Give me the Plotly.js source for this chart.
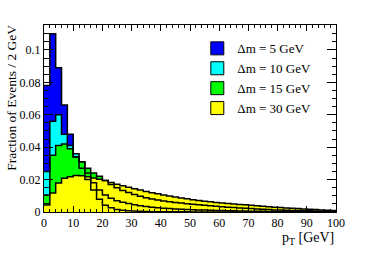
<!DOCTYPE html>
<html>
<head>
<meta charset="utf-8">
<script src="https://cdn.plot.ly/plotly-3.0.1.min.js"></script>
<style>html,body{margin:0;padding:0;background:#fff}#chart{width:374px;height:253px}</style>
</head>
<body>
<div id="chart"></div>
<script>
// Bin width 2 GeV, 0..100 GeV
const binWidth = 2;
const seriesNames = ["\u0394m = 5 GeV", "\u0394m = 10 GeV", "\u0394m = 15 GeV", "\u0394m = 30 GeV"];
const seriesColors = ["#0000ff", "#00ffff", "#00ff00", "#ffff00"];

const dm5 = [0.078,0.110,0.089,0.066,0.048,0.034,0.027,0.020,0.0135,0.0078,
  0.0042,0.0026,0.0016,0.0011,0.0008,0.0006,0.0004,0.0003,0.0002,0.0002,
  0.0001,0.0001,0.0001,0.0001,0.0001,0,0,0,0,0,
  0,0,0,0,0,0,0,0,0,0, 0,0,0,0,0,0,0,0,0,0];
const dm10 = [0.025,0.056,0.060,0.048,0.041,0.036,0.031,0.024,0.018,0.0135,
  0.0105,0.0085,0.0070,0.0060,0.0052,0.0045,0.0039,0.0034,0.0030,0.0026,
  0.0023,0.0021,0.0019,0.0017,0.0015,0.0014,0.0013,0.0012,0.0011,0.0010,
  0.0009,0.0008,0.0007,0.0006,0.0006,0.0005,0.0004,0.0004,0.0003,0.0003,
  0.0003,0.0002,0.0002,0.0002,0.0001,0.0001,0.0001,0.0001,0.0001,0.0001];
const dm15 = [0.0105,0.035,0.041,0.042,0.039,0.034,0.031,0.027,0.024,0.022,
  0.0195,0.0170,0.0150,0.0133,0.0120,0.0108,0.0097,0.0088,0.0080,0.0074,
  0.0068,0.0063,0.0059,0.0055,0.0051,0.0048,0.0045,0.0042,0.0039,0.0036,
  0.0033,0.0030,0.0027,0.0025,0.0023,0.0021,0.0019,0.0017,0.0015,0.0013,
  0.0012,0.0011,0.0010,0.0009,0.0008,0.0007,0.0006,0.0005,0.0004,0.0004];
const dm30 = [0.0043,0.0117,0.0179,0.0208,0.0218,0.0226,0.0224,0.0218,0.0210,0.0202,
  0.0195,0.0182,0.0172,0.0162,0.0152,0.0143,0.0135,0.0127,0.0119,0.0112,
  0.0105,0.0098,0.0092,0.0086,0.0081,0.0076,0.0071,0.0067,0.0063,0.0059,
  0.0056,0.0053,0.0050,0.0047,0.0044,0.0041,0.0038,0.0035,0.0032,0.0030,
  0.0028,0.0025,0.0023,0.0021,0.0019,0.0017,0.0015,0.0013,0.0011,0.0009];

const yTickVals = [0, 0.02, 0.04, 0.06, 0.08, 0.1];
const yTickText = ["0", "0.02", "0.04", "0.06", "0.08", "0.1"];
const xTickVals = [0,10,20,30,40,50,60,70,80,90,100];
const xTickText = ["0","10","20","30","40","50","60","70","80","90","100"];

const allSeries = [dm5, dm10, dm15, dm30];

function stepXY(vals) {
  const xs = [], ys = [];
  for (let i = 0; i < vals.length; i++) { xs.push(i * binWidth); ys.push(vals[i]); }
  xs.push(vals.length * binWidth); ys.push(vals[vals.length - 1]);
  return {xs, ys};
}

const traces = [];
// fills
allSeries.forEach((s, k) => {
  const {xs, ys} = stepXY(s);
  traces.push({type: 'scatter', mode: 'lines', x: xs, y: ys, line: {shape: 'hv', width: 0, color: seriesColors[k]},
    fill: 'tozeroy', fillcolor: seriesColors[k], showlegend: false, hoverinfo: 'skip'});
});
// outlines
allSeries.forEach((s, k) => {
  const {xs, ys} = stepXY(s);
  traces.push({type: 'scatter', mode: 'lines', x: xs, y: ys, line: {shape: 'hv', width: 1.5, color: '#000'},
    showlegend: false, hoverinfo: 'skip'});
});
// legend entries
allSeries.forEach((s, k) => {
  traces.push({type: 'scatter', mode: 'markers', x: [null], y: [null], name: seriesNames[k],
    marker: {symbol: 'square', size: 13, color: seriesColors[k], line: {color: '#000', width: 1}}, showlegend: true});
});

const font = {family: '"Liberation Serif", "Times New Roman", serif', color: '#000'};

const layout = {
  width: 374, height: 253,
  margin: {l: 44, r: 38, t: 25, b: 41},
  paper_bgcolor: '#fff', plot_bgcolor: '#fff',
  font: Object.assign({size: 12}, font),
  showlegend: true,
  legend: {x: 0.525, y: 0.955, xanchor: 'left', yanchor: 'top', bgcolor: 'rgba(0,0,0,0)',
    font: Object.assign({size: 13}, font), itemwidth: 30, tracegroupgap: 0},
  xaxis: {range: [0, 100], tickvals: xTickVals, ticktext: xTickText, ticks: 'inside', ticklen: 6,
    tickwidth: 1, tickcolor: '#000', showline: true, linecolor: '#000', linewidth: 1, mirror: 'allticks',
    showgrid: false, zeroline: false, tickfont: Object.assign({size: 12}, font),
    minor: {dtick: 2, ticks: 'inside', ticklen: 3, tickcolor: '#000', showgrid: false}},
  yaxis: {range: [0, 0.1154], tickvals: yTickVals, ticktext: yTickText, ticks: 'inside', ticklen: 9,
    tickwidth: 1, tickcolor: '#000', showline: true, linecolor: '#000', linewidth: 1, mirror: 'allticks',
    showgrid: false, zeroline: false, tickfont: Object.assign({size: 12}, font),
    minor: {dtick: 0.005, ticks: 'inside', ticklen: 4.5, tickcolor: '#000', showgrid: false}},
  annotations: [
    {text: 'Fraction of Events / 2 GeV', xref: 'paper', yref: 'paper', x: -0.11, y: 0.61,
      xanchor: 'center', yanchor: 'middle', textangle: -90, showarrow: false, font: Object.assign({size: 13.5}, font)},
    {text: 'p<sub>T</sub> [GeV]', xref: 'paper', yref: 'paper', x: 1, y: -0.14,
      xanchor: 'right', yanchor: 'middle', showarrow: false, font: Object.assign({size: 14}, font)}
  ]
};

Plotly.newPlot('chart', traces, layout, {staticPlot: true, displayModeBar: false});
</script>
</body>
</html>
